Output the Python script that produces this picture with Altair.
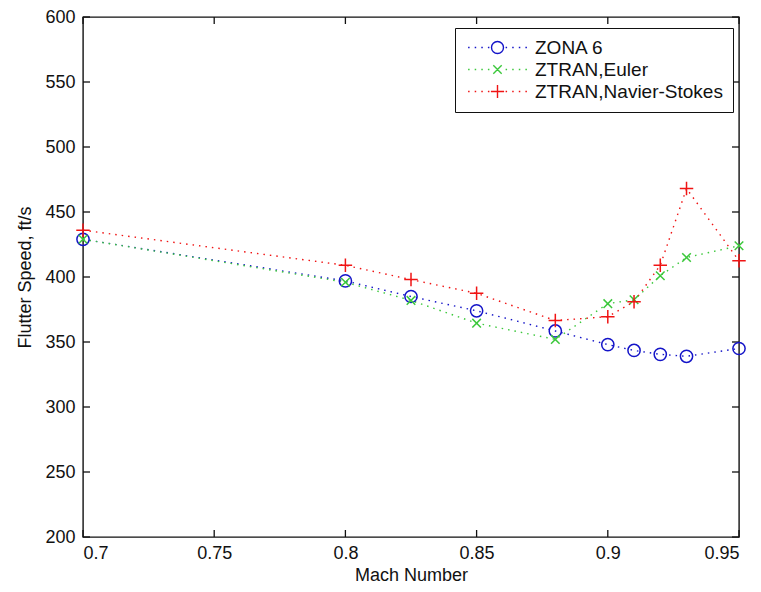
import altair as alt
import pandas as pd

# ---- data ----
series_names = ["ZONA 6", "ZTRAN,Euler", "ZTRAN,Navier-Stokes"]
mach = [0.7, 0.8, 0.825, 0.85, 0.88, 0.9, 0.91, 0.92, 0.93, 0.95]
zona6 = [429, 397, 385, 374, 358.5, 348, 343.5, 340.5, 339, 345]
euler = [429, 396, 382, 364.5, 352, 379.5, 382.5, 401, 415, 424]
navier = [436, 409, 398, 387.5, 366.5, 369.5, 381, 409, 468, 412.5]
x_ticks = [0.7, 0.75, 0.8, 0.85, 0.9, 0.95]
y_ticks = [200, 250, 300, 350, 400, 450, 500, 550, 600]

# ---- styles ----
colors = ["#1414c8", "#3cc83c", "#f01414"]
W, H = 656, 520
FONT = "Liberation Sans"

circle = "M1,0A1,1,0,1,1,-1,0A1,1,0,1,1,1,0Z"
xmark = "M-0.7,-0.7L0.7,0.7M-0.7,0.7L0.7,-0.7"
plus = "M-1.1,0L1.1,0M0,-1.1L0,1.1"
marker_paths = [circle, xmark, plus]


def wings():
    segs = []
    for p in [1.6, 2.7, 3.8, 4.9]:
        segs.append(f"M{-p},0L{-p + 0.25},0")
        segs.append(f"M{p - 0.25},0L{p},0")
    return "".join(segs)


legend_paths = [m + wings() for m in marker_paths]

rows = []
for name, vals in zip(series_names, [zona6, euler, navier]):
    for m, v in zip(mach, vals):
        rows.append({"series": name, "mach": m, "speed": v})
df = pd.DataFrame(rows)

xscale = alt.Scale(domain=[0.7, 0.95], nice=False, zero=False)
yscale = alt.Scale(domain=[200, 600], nice=False, zero=False)
cscale = alt.Scale(domain=series_names, range=colors)

xaxis = alt.Axis(values=x_ticks, format="~g", tickSize=0, domain=False, grid=False,
                 labelFontSize=18, labelFont=FONT, labelColor="#111", labelPadding=7,
                 title="Mach Number", titleFont=FONT, titleFontSize=18,
                 titleFontWeight="normal", titleColor="#111", titlePadding=4)
yaxis = alt.Axis(values=y_ticks, format="d", tickSize=0, domain=False, grid=False,
                 labelFontSize=18, labelFont=FONT, labelColor="#111", labelPadding=8,
                 title="Flutter Speed, ft/s", titleFont=FONT, titleFontSize=18,
                 titleFontWeight="normal", titleColor="#111", titlePadding=10)

base = alt.Chart(df)

lines = base.mark_line(strokeWidth=1.4, strokeDash=[1.5, 5]).encode(
    x=alt.X("mach:Q", scale=xscale, axis=xaxis),
    y=alt.Y("speed:Q", scale=yscale, axis=yaxis),
    color=alt.Color("series:N", scale=cscale, legend=None),
    detail="series:N",
)

points = base.mark_point(filled=False, strokeWidth=1.5, size=150, opacity=1).encode(
    x=alt.X("mach:Q", scale=xscale),
    y=alt.Y("speed:Q", scale=yscale),
    color=alt.Color("series:N", scale=cscale, legend=None),
    shape=alt.Shape("series:N", scale=alt.Scale(domain=series_names, range=marker_paths), legend=None),
)

leg = alt.Legend(title=None, orient="none", legendX=372, legendY=11,
                 labelFont=FONT, labelFontSize=19, labelColor="#111", labelLimit=0,
                 strokeColor="#111", fillColor="white", padding=10, cornerRadius=0,
                 symbolOpacity=1, symbolStrokeWidth=1.4, symbolSize=144,
                 symbolOffset=23, labelOffset=28, rowPadding=2)

legend_layer = base.mark_point(filled=False, strokeWidth=1.4, size=144, opacity=0).encode(
    x=alt.X("mach:Q", scale=xscale),
    y=alt.Y("speed:Q", scale=yscale),
    color=alt.Color("series:N", scale=cscale, legend=leg),
    shape=alt.Shape("series:N", scale=alt.Scale(domain=series_names, range=legend_paths), legend=leg),
)

xt = alt.Chart(pd.DataFrame({"t": x_ticks}))
yt = alt.Chart(pd.DataFrame({"t": y_ticks}))
tick_style = dict(color="#111", strokeWidth=1.3)
bottom_ticks = xt.mark_rule(**tick_style).encode(
    x=alt.X("t:Q", scale=xscale), y=alt.value(H), y2=alt.value(H - 7))
top_ticks = xt.mark_rule(**tick_style).encode(
    x=alt.X("t:Q", scale=xscale), y=alt.value(0), y2=alt.value(7))
left_ticks = yt.mark_rule(**tick_style).encode(
    y=alt.Y("t:Q", scale=yscale), x=alt.value(0), x2=alt.value(7))
right_ticks = yt.mark_rule(**tick_style).encode(
    y=alt.Y("t:Q", scale=yscale), x=alt.value(W), x2=alt.value(W - 7))

chart = alt.layer(
    bottom_ticks, top_ticks, left_ticks, right_ticks, lines, points, legend_layer
).resolve_scale(
    color="independent", shape="independent"
).properties(
    width=W, height=H,
    autosize=alt.AutoSizeParams(type="none"),
    padding={"left": 83, "top": 17, "right": 22, "bottom": 55},
    background="white",
).configure_view(
    stroke="#111", strokeWidth=1.4
)

chart.save("out.html", embed_options={"renderer": "svg", "actions": False})
